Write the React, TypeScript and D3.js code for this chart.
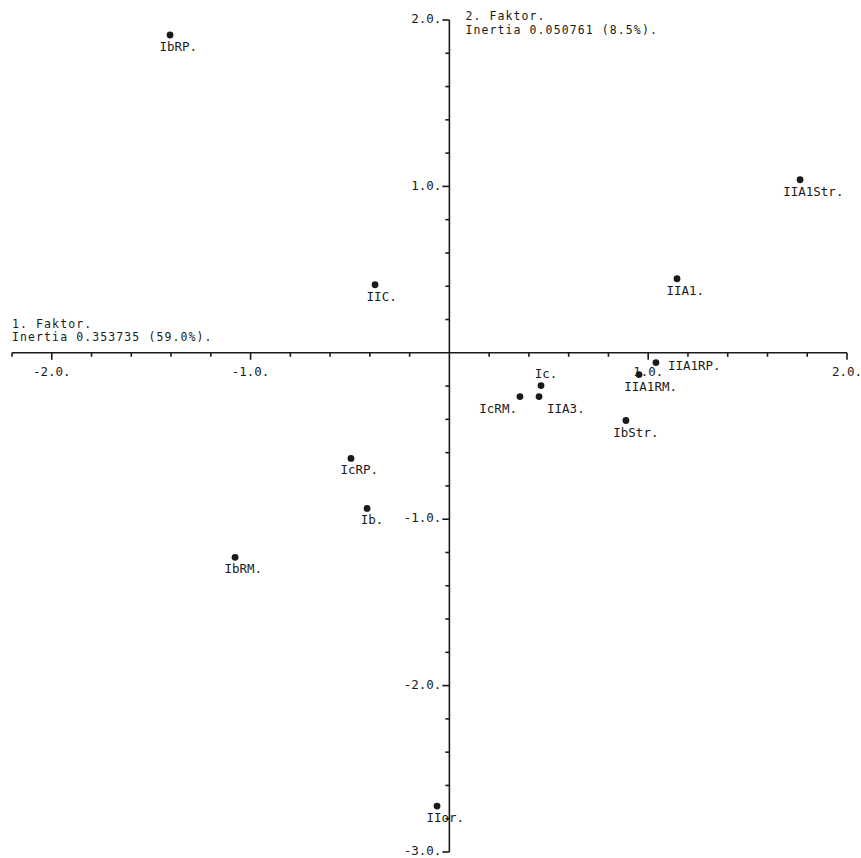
import React, { useEffect, useRef } from "react";
import * as d3 from "d3";

// points of the correspondence analysis (factor 1 / factor 2)
const labels = ["IbRP.", "IIA1Str.", "IIA1.", "IIC.", "Ic.", "IcRM.", "IIA3.", "IIA1RM.", "IIA1RP.", "IbStr.", "IcRP.", "Ib.", "IbRM.", "IIor."];
const factor1 = [-1.405, 1.764, 1.145, -0.374, 0.461, 0.355, 0.451, 0.954, 1.039, 0.888, -0.495, -0.414, -1.078, -0.062];
const factor2 = [1.91, 1.04, 0.445, 0.409, -0.197, -0.263, -0.263, -0.131, -0.059, -0.407, -0.635, -0.935, -1.229, -2.724];
const labelSide = ["below", "below", "below", "below", "above", "belowLeft", "belowRight", "below", "right", "below", "below", "below", "below", "below"];

const xTickValues = [-2, -1, 1, 2];
const xTickLabels = ["-2.0.", "-1.0.", "1.0.", "2.0."];
const yTickValues = [2, 1, -1, -2, -3];
const yTickLabels = ["2.0.", "1.0.", "-1.0.", "-2.0.", "-3.0."];

const xTitle = ["1. Faktor.", "Inertia 0.353735 (59.0%)."];
const yTitle = ["2. Faktor.", "Inertia 0.050761 (8.5%)."];

function App() {
  const ref = useRef<SVGSVGElement>(null);

  useEffect(() => {
    const width = 861;
    const height = 858;
    const font = "'DejaVu Sans Mono', monospace";
    const ink = "#1a1a1a";

    const x = d3.scaleLinear().domain([-2.2, 2.0]).range([12, 847]);
    const y = d3.scaleLinear().domain([-3, 2]).range([852, 20]);

    const svg = d3.select(ref.current).attr("width", width).attr("height", height);
    svg.selectAll("*").remove();

    svg.append("rect").attr("width", width).attr("height", height).attr("fill", "#fff");

    const x0 = x(0);
    const y0 = y(0);

    // axes
    const axes = svg.append("g").attr("stroke", ink).attr("stroke-width", 1.6).attr("fill", "none");
    axes.append("line").attr("x1", x(-2.2)).attr("x2", x(2)).attr("y1", y0).attr("y2", y0);
    axes.append("line").attr("x1", x0).attr("x2", x0).attr("y1", y(2)).attr("y2", y(-3));

    const xt = d3.range(-11, 11).map(i => i / 5);
    axes.selectAll(".xt")
      .data(xt.filter(v => Math.abs(v) > 1e-6))
      .join("line")
      .attr("x1", d => x(d))
      .attr("x2", d => x(d))
      .attr("y1", y0)
      .attr("y2", d => y0 + (Math.abs(d - Math.round(d)) < 1e-6 ? 7 : 4));

    const yt = d3.range(-15, 11).map(i => i / 5);
    axes.selectAll(".yt")
      .data(yt.filter(v => Math.abs(v) > 1e-6))
      .join("line")
      .attr("y1", d => y(d))
      .attr("y2", d => y(d))
      .attr("x1", x0)
      .attr("x2", d => x0 - (Math.abs(d - Math.round(d)) < 1e-6 ? 7 : 4));

    // tick labels
    svg.append("g")
      .attr("font-family", font)
      .attr("font-size", 12.5)
      .attr("fill", ink)
      .attr("text-anchor", "middle")
      .selectAll("text")
      .data(xTickValues)
      .join("text")
      .attr("x", d => x(d))
      .attr("y", y0 + 23)
      .text((d, i) => xTickLabels[i]);

    svg.append("g")
      .attr("font-family", font)
      .attr("font-size", 12.5)
      .attr("fill", ink)
      .attr("text-anchor", "end")
      .selectAll("text")
      .data(yTickValues)
      .join("text")
      .attr("x", x0 - 8)
      .attr("y", d => y(d))
      .attr("dy", "0.25em")
      .text((d, i) => yTickLabels[i]);

    // axis titles
    const titleSize = 11.5;
    svg.append("g")
      .attr("font-family", font)
      .attr("font-size", titleSize)
      .attr("letter-spacing", 1.1)
      .attr("fill", ink)
      .selectAll("text")
      .data(xTitle)
      .join("text")
      .attr("x", x(-2.2))
      .attr("y", (d, i) => y0 - 25 + i * 13.5)
      .text(d => d);

    svg.append("g")
      .attr("font-family", font)
      .attr("font-size", titleSize)
      .attr("letter-spacing", 1.1)
      .attr("fill", ink)
      .selectAll("text")
      .data(yTitle)
      .join("text")
      .attr("x", x0 + 16)
      .attr("y", (d, i) => y(2) + i * 13.5)
      .text(d => d);

    // points
    const pts = labels.map((l, i) => ({ label: l, f1: factor1[i], f2: factor2[i], side: labelSide[i] }));

    svg.append("g")
      .attr("fill", ink)
      .selectAll("circle")
      .data(pts)
      .join("circle")
      .attr("cx", d => x(d.f1))
      .attr("cy", d => y(d.f2))
      .attr("r", 3.4);

    const fs = 12.5;
    const cw = fs * 0.602;
    svg.append("g")
      .attr("font-family", font)
      .attr("font-size", fs)
      .attr("fill", ink)
      .selectAll("text")
      .data(pts)
      .join("text")
      .attr("x", d => {
        const px = x(d.f1);
        if (d.side === "belowLeft") return px - 3;
        if (d.side === "belowRight") return px + 8;
        if (d.side === "right") return px + 12;
        return px - 0.28 * d.label.length * cw;
      })
      .attr("y", d => {
        const py = y(d.f2);
        if (d.side === "above") return py - 8;
        if (d.side === "right") return py + 7;
        return py + 16;
      })
      .attr("text-anchor", d => (d.side === "belowLeft" ? "end" : "start"))
      .text(d => d.label);
  }, []);

  return (
    <svg ref={ref} style={{ position: "absolute", left: 0, top: 0, display: "block" }}></svg>
  );
}

export default App;
